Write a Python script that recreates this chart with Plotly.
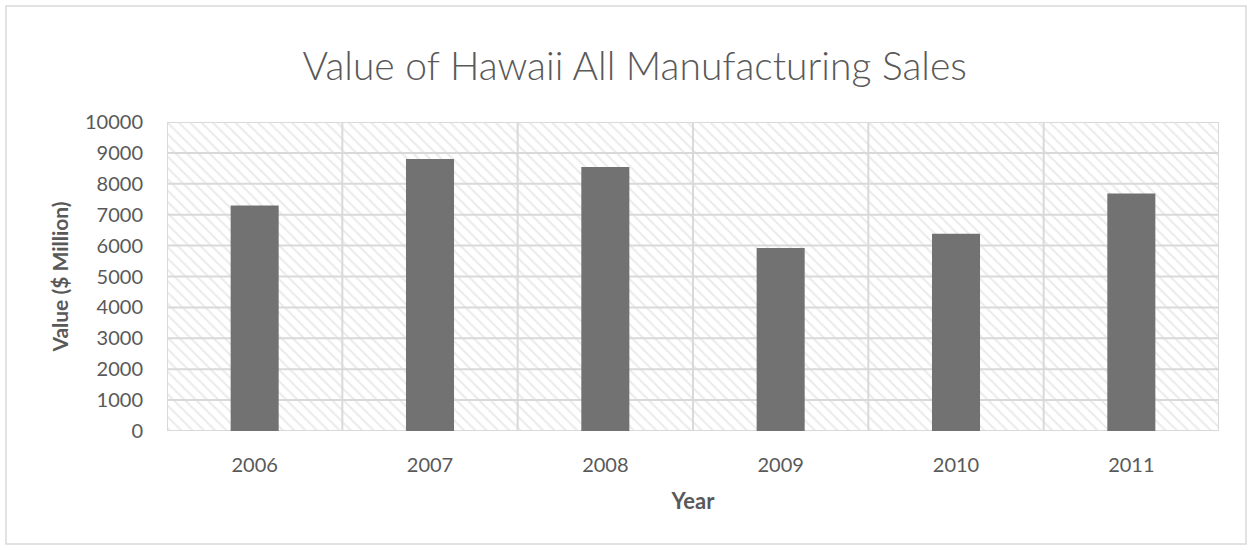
import plotly.graph_objects as go

years = ["2006", "2007", "2008", "2009", "2010", "2011"]
values = [7300, 8800, 8540, 5920, 6380, 7690]
y_ticks = list(range(0, 10001, 1000))
y_tick_labels = [str(t) for t in y_ticks]

grid_color = "#d9d9d9"
text_color = "#595959"
bar_color = "#727272"
font_family = "Lato, 'Open Sans', sans-serif"

fig = go.Figure()

# hatched plot-area background (base subplot)
fig.add_trace(go.Bar(
    x=[0.5], y=[y_ticks[-1]], width=[1], xaxis="x", yaxis="y",
    marker=dict(color="white", line=dict(width=0),
                pattern=dict(shape="\\", fgcolor="#d6d6d6", bgcolor="white",
                             size=8, solidity=0.25)),
    hoverinfo="skip", showlegend=False,
))

# gridlines above hatch, below data bars
gx, gy = [], []
for t in y_ticks:
    gx += [0, 1, None]
    gy += [t, t, None]
n = len(years)
for i in range(n + 1):
    gx += [i / n, i / n, None]
    gy += [y_ticks[0], y_ticks[-1], None]
fig.add_trace(go.Scatter(
    x=gx, y=gy, mode="lines", xaxis="x", yaxis="y",
    line=dict(color=grid_color, width=2),
    hoverinfo="skip", showlegend=False,
))

# data bars (overlay subplot)
fig.add_trace(go.Bar(
    x=years, y=values, xaxis="x2", yaxis="y2",
    marker=dict(color=bar_color, line=dict(width=0)),
    width=0.274, showlegend=False,
))

fig.update_layout(
    width=1252, height=550,
    margin=dict(l=167, r=33, t=122, b=119),
    paper_bgcolor="white", plot_bgcolor="white",
    font=dict(family=font_family, color=text_color),
    title=dict(text="Value of Hawaii All Manufacturing Sales",
               x=0.507, xref="container", xanchor="center",
               y=1 - 66 / 550, yref="container", yanchor="middle",
               font=dict(size=39, color=text_color, family="Lato, sans-serif",
                         weight=300)),
    xaxis=dict(range=[0, 1], visible=False, fixedrange=True),
    yaxis=dict(range=[0, 10000], visible=False, fixedrange=True),
    xaxis2=dict(overlaying="x", anchor="y2", side="bottom", type="category",
                showgrid=False, showline=False, ticks="", zeroline=False,
                ticklabelstandoff=20,
                tickfont=dict(size=20, color=text_color),
                title=dict(text="<b>Year</b>", font=dict(size=22, color=text_color),
                           standoff=18)),
    yaxis2=dict(overlaying="y", anchor="x2", side="left", range=[0, 10000],
                tickvals=y_ticks, ticktext=y_tick_labels,
                showgrid=False, showline=False, zeroline=False,
                ticks="", ticklabelstandoff=23,
                tickfont=dict(size=20, color=text_color),
                title=dict(text="<b>Value ($ Million)</b>",
                           font=dict(size=21, color=text_color), standoff=10)),
    shapes=[dict(type="rect", xref="paper", yref="paper",
                 x0=-161 / 1052, x1=1 + 27 / 1052,
                 y0=-113 / 309, y1=1 + 116 / 309,
                 line=dict(color="#d9d9d9", width=1.5), layer="below")],
)

fig.write_html("out.html", config={"displayModeBar": False},
               post_script="document.body.style.margin='0';")
